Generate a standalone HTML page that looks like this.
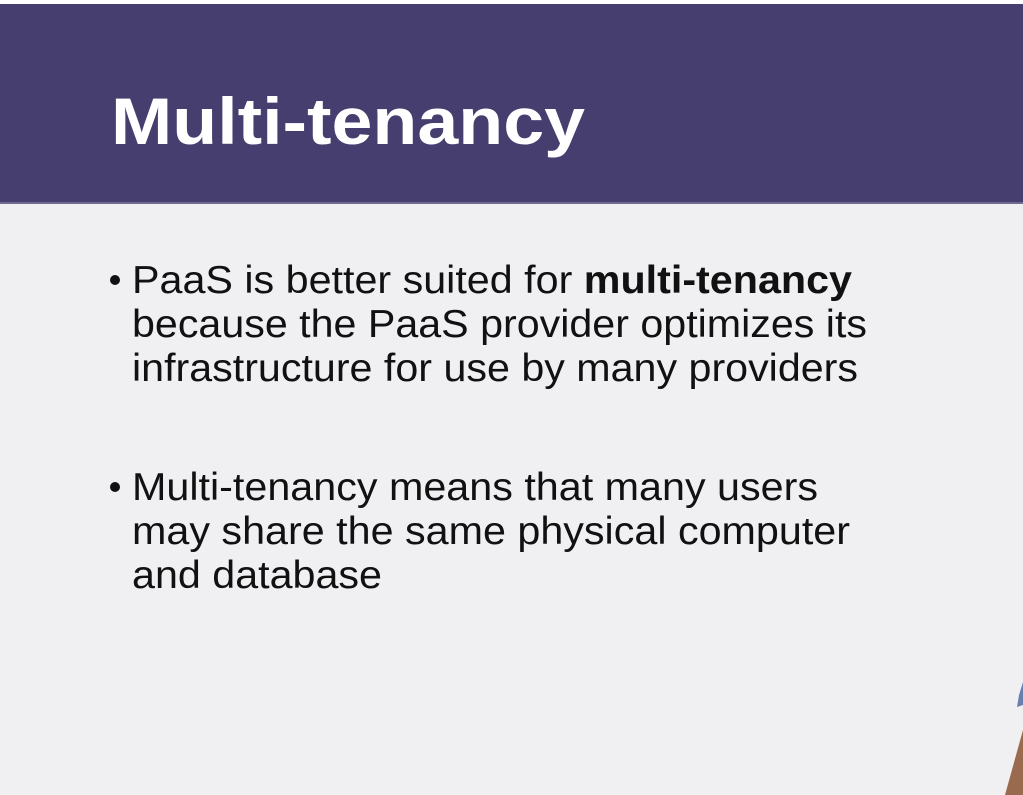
<!DOCTYPE html>
<html><head><meta charset="utf-8"><style>
html,body{margin:0;padding:0;background:#f0eff2;}
svg{display:block}
</style></head><body>
<svg width="1023" height="795" viewBox="0 0 1023 795" xmlns="http://www.w3.org/2000/svg">
<rect x="0" y="0" width="1023" height="795" fill="#f0eff2"/>
<rect x="0" y="0" width="1023" height="4" fill="#ffffff"/>
<rect x="0" y="4" width="1023" height="199" fill="#453e6e"/>
<rect x="0" y="202" width="1023" height="2" fill="#6f6a90"/>
<text x="111" y="144" font-family="Liberation Sans, sans-serif" font-weight="bold" font-size="66" fill="#ffffff" textLength="474" lengthAdjust="spacingAndGlyphs">Multi-tenancy</text>
<g font-family="Liberation Sans, sans-serif" font-size="39" fill="#111111">
<circle cx="115" cy="280" r="5" fill="#111"/>
<text x="132" y="293" textLength="720" lengthAdjust="spacingAndGlyphs">PaaS is better suited for <tspan font-weight="bold">multi-tenancy</tspan></text>
<text x="132" y="337" textLength="735" lengthAdjust="spacingAndGlyphs">because the PaaS provider optimizes its</text>
<text x="132" y="381" textLength="726" lengthAdjust="spacingAndGlyphs">infrastructure for use by many providers</text>
<circle cx="115" cy="487" r="5" fill="#111"/>
<text x="132" y="500" textLength="686" lengthAdjust="spacingAndGlyphs">Multi-tenancy means that many users</text>
<text x="132" y="544" textLength="718" lengthAdjust="spacingAndGlyphs">may share the same physical computer</text>
<text x="132" y="588" textLength="250" lengthAdjust="spacingAndGlyphs">and database</text>
</g>
<polygon points="1023,682 1019,695 1017,707 1023,705" fill="#6a7fb0"/>
<polygon points="1023,730 1005,795 1023,795" fill="#9a6a4e"/>
</svg>
</body></html>
